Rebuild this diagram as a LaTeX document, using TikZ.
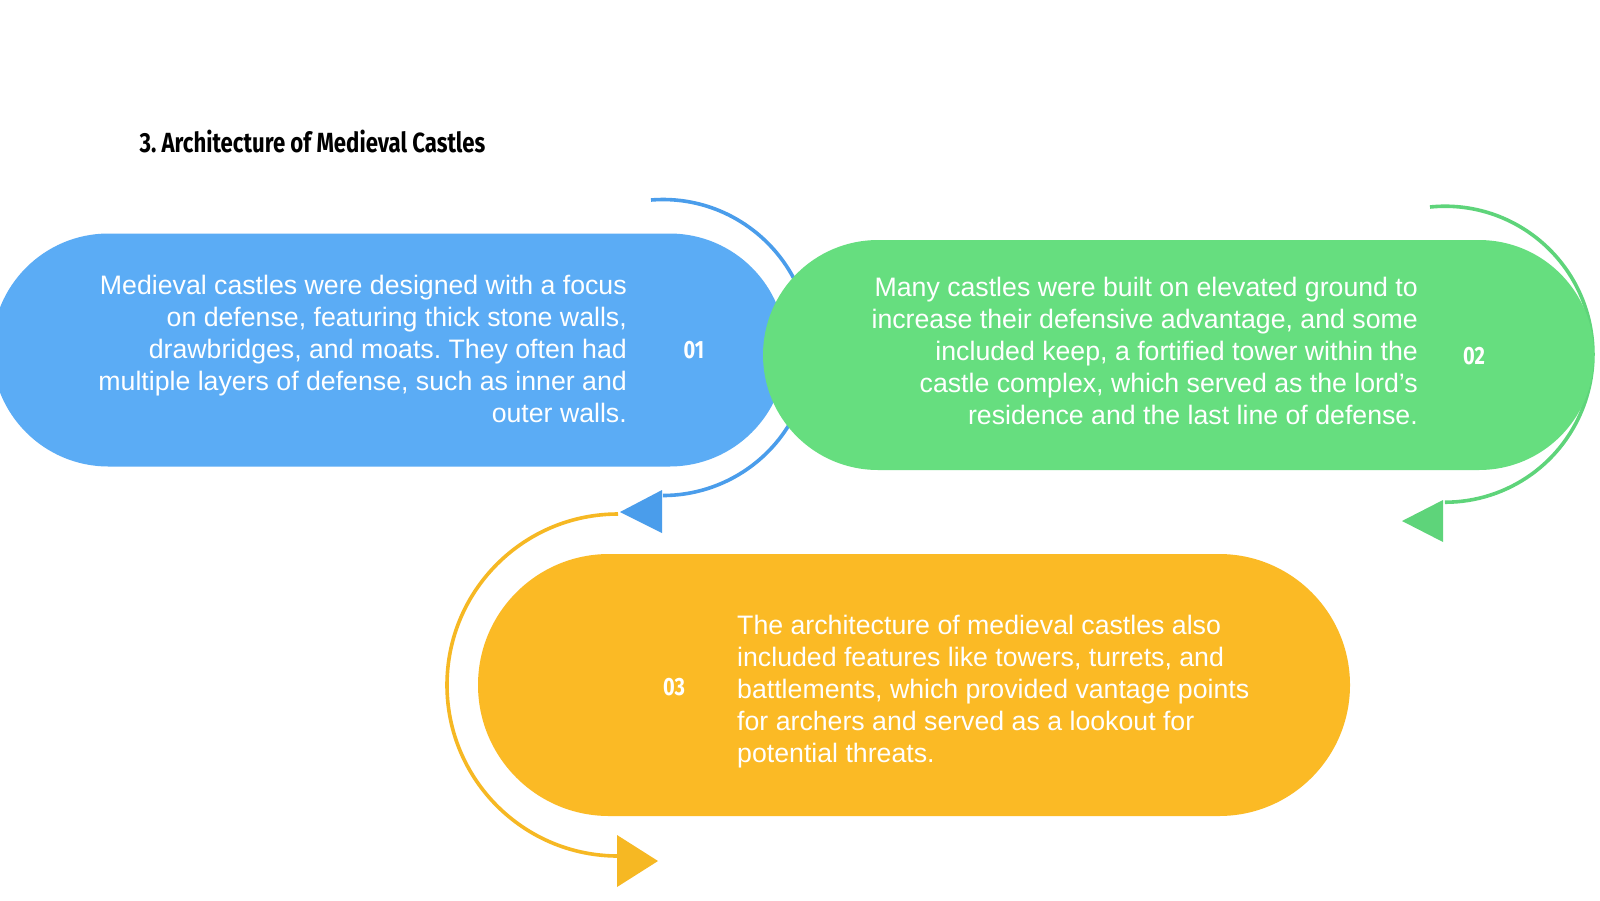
\documentclass[tikz,border=0pt]{standalone}
\usepackage{fontspec}
\setmainfont{Liberation Sans}
\newfontfamily\titlefont[FakeStretch=0.8]{Fira Sans}
\usetikzlibrary{shapes.misc}
\frenchspacing
\definecolor{bluepill}{HTML}{5BACF5}
\definecolor{bluearc}{HTML}{4A9DEB}
\definecolor{greenpill}{HTML}{66DE7F}
\definecolor{greenarc}{HTML}{5ED47A}
\definecolor{yellowpill}{HTML}{FBBA25}
\definecolor{yellowarc}{HTML}{F6B823}
\tikzset{
  pill/.style={rounded rectangle, inner sep=0pt, draw=none},
  bodytext/.style={text=white, font=\fontsize{26.7}{32}\selectfont, inner sep=0pt},
  numtext/.style={text=white, font=\titlefont\bfseries\fontsize{25}{25}\selectfont, inner sep=0pt},
  arcline/.style={line width=3.6pt},
}
\begin{document}
\begin{tikzpicture}[x=1pt,y=1pt]
\useasboundingbox (0,0) rectangle (1600,-900);
\fill[white] (0,0) rectangle (1600,-900);

\node[anchor=west, font=\titlefont\bfseries\fontsize{27.7}{28}\selectfont] (title) at (136,-141) {3. Architecture of Medieval Castles};

% blue arc (behind green pill)
\coordinate (ba) at (651,-200);
\draw[arcline, bluearc] (ba) arc[start angle=94.6, end angle=-90, radius=148] coordinate (bb);

% green arc
\coordinate (ga) at (1430,-207);
\draw[arcline, greenarc] (ga) arc[start angle=95.8, end angle=-90, radius=148] coordinate (gb);
\fill[greenarc] (1443,-500) -- (1443,-542) -- (1402,-521) -- cycle;

% yellow arc
\coordinate (ya) at (618,-514);
\draw[arcline, yellowarc] (ya) arc[start angle=90, end angle=270, radius=171] coordinate (yb);
\fill[yellowarc] (617,-835) -- (617,-887) -- (658,-861) -- cycle;
\fill[bluearc] (662,-490) -- (662,-533) -- (620,-512) -- cycle;

% pills
\node[pill, fill=bluepill, minimum width=794pt, minimum height=233pt] (p1) at (389,-350) {};
\node[pill, fill=greenpill, minimum width=831pt, minimum height=230pt] (p2) at (1178.5,-355) {};
\node[pill, fill=yellowpill, minimum width=872pt, minimum height=262pt] (p3) at (914,-685) {};

% texts
\node[bodytext, align=right, anchor=east] (t1) at (627,-349) {Medieval castles were designed with a focus\\on defense, featuring thick stone walls,\\drawbridges, and moats. They often had\\multiple layers of defense, such as inner and\\outer walls.};
\node[numtext] (n1) at (694,-350) {01};

\node[bodytext, align=right, anchor=east] (t2) at (1418,-351) {Many castles were built on elevated ground to\\increase their defensive advantage, and some\\included keep, a fortified tower within the\\castle complex, which served as the lord's\\residence and the last line of defense.};
\node[numtext] (n2) at (1474,-356) {02};

\node[bodytext, align=left, anchor=west] (t3) at (737,-692) {The architecture of medieval castles also\\included features like towers, turrets, and\\battlements, which provided vantage points\\for archers and served as a lookout for\\potential threats.};
\node[numtext] (n3) at (674,-687) {03};
\end{tikzpicture}
\end{document}
